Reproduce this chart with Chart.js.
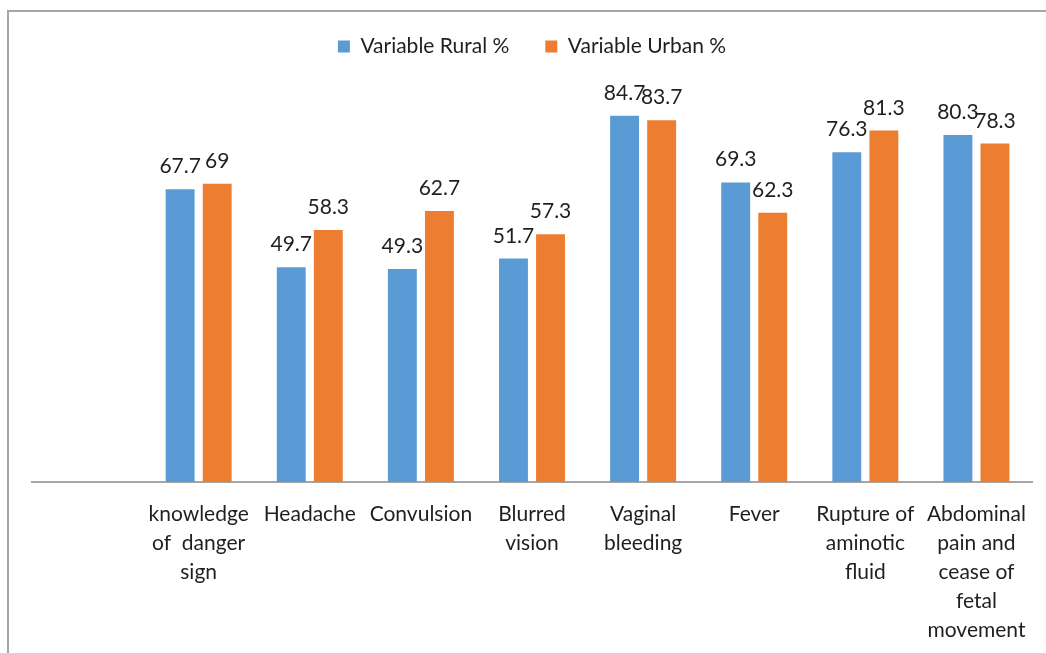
<!DOCTYPE html>
<html lang="en">
<head>
  <meta charset="UTF-8">
  <title>Danger signs - Rural vs Urban</title>
  <script src="https://cdn.jsdelivr.net/npm/chart.js"></script>
  <style>
    html, body {
      margin: 0;
      padding: 0;
      background: #fff;
    }
    .frame {
      position: absolute;
      left: 7px;
      top: 10px;
      width: 1039px;
      height: 643px;
      border-left: 2px solid #a6a6a6;
      border-top: 2px solid #a6a6a6;
    }
    .wrap {
      position: absolute;
      left: 0;
      top: 0;
      width: 1046px;
      height: 653px;
    }
  </style>
</head>
<body>
  <div class="frame"></div>
  <div class="wrap"><canvas id="chart"></canvas></div>

  <script>
    // data (first slot is empty in the original)
    const categories = [
      '',
      ['knowledge', 'of  danger', 'sign'],
      'Headache',
      'Convulsion',
      ['Blurred', 'vision'],
      ['Vaginal', 'bleeding'],
      'Fever',
      ['Rupture of', 'aminotic', 'fluid'],
      ['Abdominal', 'pain and', 'cease of', 'fetal', 'movement']
    ];
    const rural = [null, 67.7, 49.7, 49.3, 51.7, 84.7, 69.3, 76.3, 80.3];
    const urban = [null, 69, 58.3, 62.7, 57.3, 83.7, 62.3, 81.3, 78.3];

    const textFont = 'Lato, "Open Sans", sans-serif';

    // value labels above each bar
    const barLabels = {
      id: 'barLabels',
      afterDatasetsDraw(chart) {
        const c = chart.ctx;
        c.save();
        c.font = '21px ' + textFont;
        c.fillStyle = '#1f1f1f';
        c.textAlign = 'center';
        c.textBaseline = 'alphabetic';
        chart.data.datasets.forEach((ds, i) => {
          chart.getDatasetMeta(i).data.forEach((bar, j) => {
            if (ds.data[j] == null) return;
            c.fillText(String(ds.data[j]), bar.x, bar.y - 16);
          });
        });
        c.restore();
      }
    };

    new Chart(document.getElementById('chart'), {
      type: 'bar',
      data: {
        labels: categories,
        datasets: [
          {
            label: 'Variable Rural %',
            data: rural,
            backgroundColor: '#5b9bd5',
            categoryPercentage: 0.667,
            barPercentage: 0.78
          },
          {
            label: 'Variable Urban %',
            data: urban,
            backgroundColor: '#ed7d31',
            categoryPercentage: 0.667,
            barPercentage: 0.78
          }
        ]
      },
      options: {
        responsive: true,
        maintainAspectRatio: false,
        animation: false,
        layout: {
          padding: { left: 32, right: 14, top: 0, bottom: 9 }
        },
        plugins: {
          legend: {
            position: 'top',
            labels: {
              boxWidth: 12,
              boxHeight: 12,
              padding: 36,
              color: '#1f1f1f',
              font: { family: textFont, size: 21 }
            }
          },
          tooltip: { enabled: false }
        },
        scales: {
          x: {
            grid: { display: false },
            border: { display: true, color: '#a6a6a6', width: 2 },
            ticks: {
              autoSkip: false,
              maxRotation: 0,
              padding: 10,
              color: '#1f1f1f',
              font: { family: textFont, size: 21, lineHeight: 1.38 }
            },
            // labels need less room than chart.js reserves
            afterFit(scale) {
              scale.height -= 11;
            }
          },
          y: {
            display: false,
            min: 0,
            max: 96
          }
        }
      },
      plugins: [barLabels]
    });
  </script>
</body>
</html>
